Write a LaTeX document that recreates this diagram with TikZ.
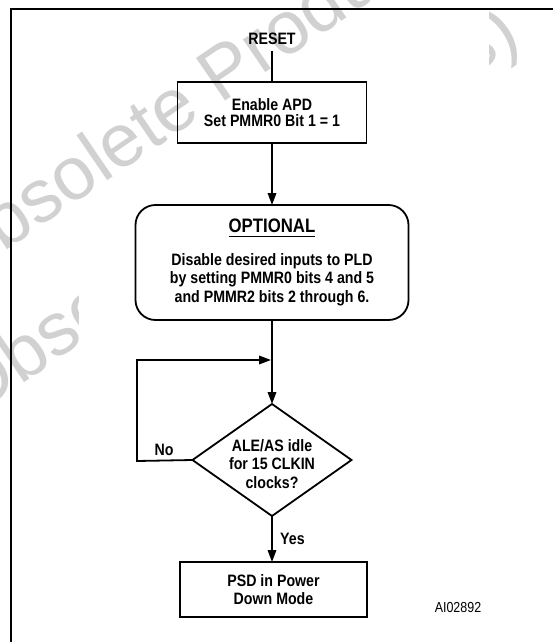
\documentclass[tikz,border=0pt]{standalone}
\usepackage{fontspec}
\setmainfont[FakeStretch=0.86]{Liberation Sans}
\newfontfamily\wmfont{Liberation Sans}
\usetikzlibrary{arrows.meta,shapes.geometric}
\newcommand{\ulbox}[1]{\vtop{\hbox{#1}\kern2.5pt\hrule height 1.8pt}}
\begin{document}
\begin{tikzpicture}[x=1pt,y=-1pt,
  lw/.style={line width=1.8pt},
  flowbox/.style={draw, lw, inner sep=0pt, outer sep=0pt, align=center, font=\fontsize{16.5}{18.5}\selectfont\bfseries},
  lbl/.style={inner sep=0pt, font=\fontsize{16.5}{18.5}\selectfont\bfseries},
  conn/.style={lw},
  arr/.style={lw, -{Triangle[length=12pt,width=8.5pt]}},
  wm/.style={text=black!18, inner sep=0pt, font=\wmfont\fontsize{75}{75}\selectfont, rotate=34.3, anchor=base west}
]
\useasboundingbox (0,0) rectangle (553,642);
\fill[white] (0,0) rectangle (553,642);
% watermarks
\node[wm] (wmA) at (-45,285) {Obsolete Product(s)};
\begin{scope}
\clip (0,280) rectangle (78,470) (489,0) rectangle (553,80);
\node[wm] (wmB) at (-28,418) {Obsolete Product(s)};
\end{scope}
% frame
\draw[lw] (11,642) -- (11,9) -- (553,9);
% nodes
\node[lbl, inner sep=6pt] (reset) at (272,39) {RESET};
\node[flowbox, minimum width=189pt, minimum height=61pt, font=\fontsize{16.5}{16.5}\selectfont\bfseries] (apd) at (272,112.5) {Enable APD\\Set PMMR0 Bit 1 = 1};
\node[flowbox, rounded corners=20pt, minimum width=273pt, minimum height=115pt] (opt) at (272,262.5)
  {{\fontsize{19.5}{20}\selectfont\ulbox{OPTIONAL}}\\[14pt]Disable desired inputs to PLD\\by setting PMMR0 bits 4 and 5\\and PMMR2 bits 2 through 6.};
\node[draw, lw, diamond, minimum width=159pt, minimum height=112pt, inner sep=0pt, outer sep=0pt] (dia) at (272,460) {};
\node[lbl, align=center] (dtext) at (272,464) {ALE/AS idle\\for 15 CLKIN\\clocks?};
\node[flowbox, minimum width=187pt, minimum height=55pt] (psd) at (273.5,589.5) {PSD in Power\\Down Mode};
\node[lbl] (no) at (164,450) {No};
\node[lbl, anchor=west] (yes) at (280,539) {Yes};
\node[inner sep=0pt, font=\fontsize{14.5}{16}\selectfont] (code) at (458,608) {AI02892};
\coordinate (nocorner) at (137,461);
\coordinate (join) at (271,360);
% connectors
\draw[conn] (reset.south) -- (reset.south |- apd.north);
\draw[arr] (apd.south) -- (opt.north);
\draw[arr] (opt.south) -- (dia.north);
\draw[arr] (dia.west) -- (nocorner) |- (join);
\draw[arr] (dia.south) -- (dia.south |- psd.north);
\end{tikzpicture}
\end{document}
